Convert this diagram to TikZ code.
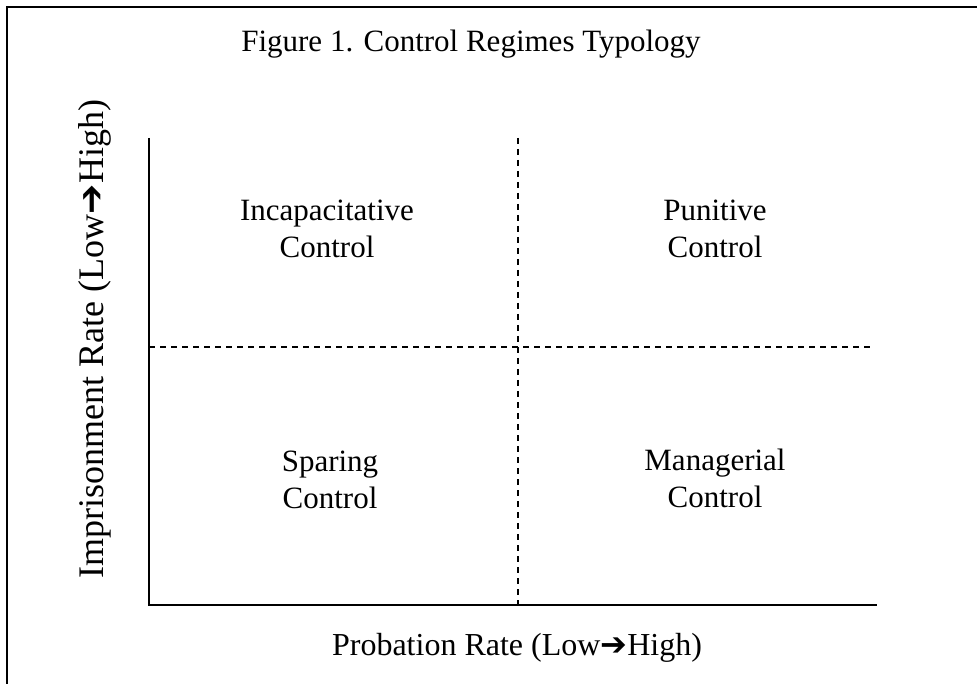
\documentclass[tikz,border=0pt]{standalone}
\usepackage{fontspec}
\setmainfont{Liberation Serif}
\newfontfamily\arrowfont{DejaVu Sans}
\newcommand{\larrowA}{{\arrowfont\fontsize{32}{32}\selectfont ➔}}
\newcommand{\larrowB}{{\arrowfont\fontsize{36}{36}\selectfont ➔}}
\begin{document}
\begin{tikzpicture}[x=1pt,y=-1pt,
  lbl/.style={font=\fontsize{31}{37}\selectfont, align=center, inner sep=0pt},
  axisline/.style={line width=2pt},
  divline/.style={line width=1.5pt, dash pattern=on 6pt off 5pt}]
\useasboundingbox (0,0) rectangle (977,684);
\fill[white] (0,0) rectangle (977,684);
% frame (partially visible)
\coordinate (fb) at (7,684);
\coordinate (fc) at (7,7);
\coordinate (fr) at (977,7);
\draw[line width=2.2pt] (fb) -- (fc) -- (fr);
% axes
\coordinate (o) at (149,605);
\coordinate (ytop) at (149,138);
\coordinate (xend) at (877,605);
\draw[axisline] (ytop) -- (o) -- (xend);
% dividers
\coordinate (vt) at (518,138);
\coordinate (vb) at (518,605);
\coordinate (hl) at (149,347);
\coordinate (hr) at (874,347);
\draw[divline] (vt) -- (vb);
\draw[divline] (hl) -- (hr);
% title
\node[lbl, anchor=base] (title) at (471,52) {Figure 1. Control Regimes Typology};
% quadrants (anchor = baseline of last line)
\node[lbl, anchor=base] (q1) at (327,258) {Incapacitative\\Control};
\node[lbl, anchor=base] (q2) at (715,258) {Punitive\\Control};
\node[lbl, anchor=base] (q3) at (330,508) {Sparing\\Control};
\node[lbl, anchor=base] (q4) at (715,507) {Managerial\\Control};
% axis labels
\node[lbl, font=\fontsize{32}{38}\selectfont, anchor=base] (xl) at (517,655) {Probation Rate (Low\larrowA High)};
\node[lbl, font=\fontsize{36}{42}\selectfont, anchor=base, rotate=90] (yl) at (103,339) {Imprisonment Rate (Low\larrowB High)};
\end{tikzpicture}
\end{document}
